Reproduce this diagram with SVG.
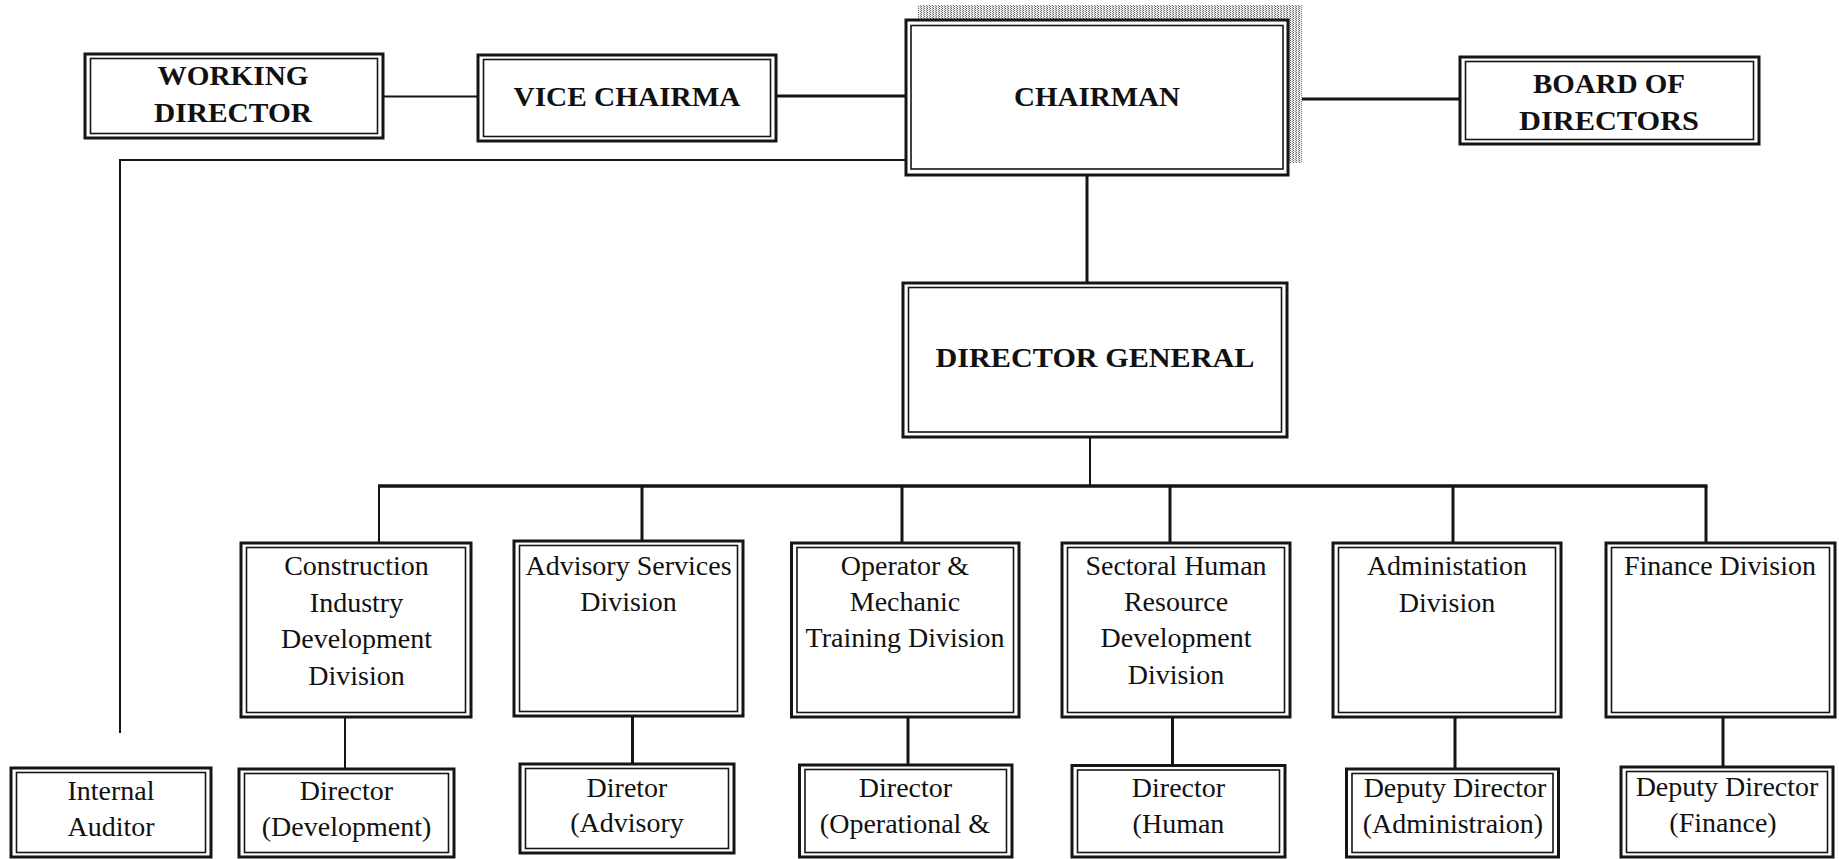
<svg xmlns="http://www.w3.org/2000/svg" width="1839" height="859" viewBox="0 0 1839 859">
<style>
.o{fill:#fff;stroke:#151515;stroke-width:3}
.i{fill:none;stroke:#151515;stroke-width:1.6}
.c{fill:none;stroke:#151515;stroke-width:3}
.ct{fill:none;stroke:#151515;stroke-width:2}
.b{font-family:"Liberation Serif","Times New Roman",serif;font-weight:bold;font-size:28px;fill:#111;text-anchor:middle}
.r{font-family:"Liberation Serif","Times New Roman",serif;font-size:28px;fill:#111;text-anchor:middle}
</style>
<defs>
<pattern id="dither" width="3" height="2" patternUnits="userSpaceOnUse">
<rect width="3" height="2" fill="#ececec"/>
<rect x="0" y="0" width="1" height="1" fill="#666"/>
<rect x="2" y="1" width="1" height="1" fill="#8a8a8a"/>
</pattern>
</defs>
<rect width="1839" height="859" fill="#fff"/>
<g id="connectors">
<line class="ct" x1="383" y1="96.5" x2="478" y2="96.5"/>
<line class="c" x1="776" y1="96" x2="906" y2="96"/>
<line class="c" x1="1302" y1="99" x2="1460" y2="99"/>
<polyline class="ct" points="906,160 120,160 120,733"/>
<line class="c" x1="1087" y1="175" x2="1087" y2="283"/>
<line class="ct" x1="1090" y1="437" x2="1090" y2="486"/>
<line class="c" x1="378" y1="486" x2="1707.5" y2="486" style="stroke-width:3.5"/>
<line class="ct" x1="379" y1="486" x2="379" y2="543"/>
<line class="c" x1="642" y1="486" x2="642" y2="541"/>
<line class="c" x1="902" y1="486" x2="902" y2="543"/>
<line class="c" x1="1170" y1="486" x2="1170" y2="543"/>
<line class="c" x1="1453" y1="486" x2="1453" y2="543"/>
<line class="c" x1="1706" y1="486" x2="1706" y2="543"/>
<line class="ct" x1="345" y1="717" x2="345" y2="769"/>
<line class="c" x1="632.5" y1="716" x2="632.5" y2="764"/>
<line class="c" x1="908" y1="717" x2="908" y2="765"/>
<line class="c" x1="1172.5" y1="717" x2="1172.5" y2="766"/>
<line class="c" x1="1455" y1="717" x2="1455" y2="769"/>
<line class="c" x1="1723" y1="717" x2="1723" y2="767"/>
</g>
<g id="working-director">
<rect class="o" x="85" y="54" width="298" height="84"/>
<rect class="i" x="90.5" y="58.5" width="287" height="75"/>
<text class="b" x="233" y="85" textLength="151" lengthAdjust="spacingAndGlyphs">WORKING</text>
<text class="b" x="233" y="121.5" textLength="158" lengthAdjust="spacingAndGlyphs">DIRECTOR</text>
</g>
<g id="vice-chairma">
<rect class="o" x="478" y="55" width="298" height="86"/>
<rect class="i" x="483.5" y="59.5" width="287" height="77"/>
<text class="b" x="627" y="106" textLength="227" lengthAdjust="spacingAndGlyphs">VICE CHAIRMA</text>
</g>
<g id="chairman">
<rect x="918" y="5" width="384" height="158" fill="url(#dither)"/>
<rect class="o" x="906" y="20" width="382" height="155"/>
<rect class="i" x="911" y="25.5" width="372" height="143.5"/>
<text class="b" x="1097" y="106" textLength="166" lengthAdjust="spacingAndGlyphs">CHAIRMAN</text>
</g>
<g id="board-of-directors">
<rect class="o" x="1460" y="57" width="299" height="87"/>
<rect class="i" x="1465.5" y="61.5" width="288" height="78"/>
<text class="b" x="1609" y="92.5" textLength="152" lengthAdjust="spacingAndGlyphs">BOARD OF</text>
<text class="b" x="1609" y="130" textLength="180" lengthAdjust="spacingAndGlyphs">DIRECTORS</text>
</g>
<g id="director-general">
<rect class="o" x="903" y="283" width="384" height="154"/>
<rect class="i" x="908.5" y="287.5" width="373" height="144.5"/>
<text class="b" x="1095" y="367" textLength="319" lengthAdjust="spacingAndGlyphs">DIRECTOR GENERAL</text>
</g>
<g id="construction-industry">
<rect class="o" x="241" y="543" width="230" height="174"/>
<rect class="i" x="246.5" y="547.5" width="219" height="165"/>
<text class="r" x="356.5" y="575">Construction</text>
<text class="r" x="356.5" y="611.5">Industry</text>
<text class="r" x="356.5" y="648">Development</text>
<text class="r" x="356.5" y="684.5">Division</text>
</g>
<g id="advisory-services">
<rect class="o" x="514" y="541" width="229" height="175"/>
<rect class="i" x="519.5" y="545.5" width="218" height="166"/>
<text class="r" x="628.5" y="575">Advisory Services</text>
<text class="r" x="628.5" y="611">Division</text>
</g>
<g id="operator-mechanic">
<rect class="o" x="791.5" y="543" width="227.5" height="174"/>
<rect class="i" x="797" y="547.5" width="216.5" height="165"/>
<text class="r" x="905" y="575">Operator &amp;</text>
<text class="r" x="905" y="611">Mechanic</text>
<text class="r" x="905" y="647">Training Division</text>
</g>
<g id="sectoral-hr">
<rect class="o" x="1062" y="543" width="228" height="174"/>
<rect class="i" x="1067.5" y="547.5" width="217" height="165"/>
<text class="r" x="1176" y="575">Sectoral Human</text>
<text class="r" x="1176" y="611">Resource</text>
<text class="r" x="1176" y="647">Development</text>
<text class="r" x="1176" y="683.5">Division</text>
</g>
<g id="administation">
<rect class="o" x="1333" y="543" width="228" height="174"/>
<rect class="i" x="1338.5" y="547.5" width="217" height="165"/>
<text class="r" x="1447" y="575">Administation</text>
<text class="r" x="1447" y="611.5">Division</text>
</g>
<g id="finance">
<rect class="o" x="1606" y="543" width="229" height="174"/>
<rect class="i" x="1611.5" y="547.5" width="218" height="165"/>
<text class="r" x="1720" y="575">Finance Division</text>
</g>
<g id="internal-auditor">
<rect class="o" x="11" y="768" width="200" height="89"/>
<rect class="i" x="16.5" y="772.5" width="189" height="80"/>
<text class="r" x="111" y="799.5">Internal</text>
<text class="r" x="111" y="835.5">Auditor</text>
</g>
<g id="director-development">
<rect class="o" x="239" y="769" width="215" height="88"/>
<rect class="i" x="244.5" y="773.5" width="204" height="79"/>
<text class="r" x="346.5" y="800">Director</text>
<text class="r" x="346.5" y="836">(Development)</text>
</g>
<g id="diretor-advisory">
<rect class="o" x="520" y="764" width="214" height="89"/>
<rect class="i" x="525.5" y="768.5" width="203" height="80"/>
<text class="r" x="627" y="796.5">Diretor</text>
<text class="r" x="627" y="832">(Advisory</text>
</g>
<g id="director-operational">
<rect class="o" x="799.5" y="765" width="212.5" height="92"/>
<rect class="i" x="805" y="769.5" width="201.5" height="83"/>
<text class="r" x="905.5" y="796.5">Director</text>
<text class="r" x="905" y="832.5">(Operational &amp;</text>
</g>
<g id="director-human">
<rect class="o" x="1072" y="765.5" width="213" height="91.5"/>
<rect class="i" x="1077.5" y="770" width="202" height="82.5"/>
<text class="r" x="1178.5" y="796.5">Director</text>
<text class="r" x="1178.5" y="832.5">(Human</text>
</g>
<g id="deputy-director-admin">
<rect class="o" x="1346.5" y="769" width="212" height="88"/>
<rect class="i" x="1352" y="773.5" width="201" height="79"/>
<text class="r" x="1455" y="796.5">Deputy Director</text>
<text class="r" x="1453" y="832.5">(Administraion)</text>
</g>
<g id="deputy-director-finance">
<rect class="o" x="1621" y="767" width="212" height="90"/>
<rect class="i" x="1626.5" y="771.5" width="201" height="81"/>
<text class="r" x="1727" y="795.5">Deputy Director</text>
<text class="r" x="1723" y="831.5">(Finance)</text>
</g>
</svg>
